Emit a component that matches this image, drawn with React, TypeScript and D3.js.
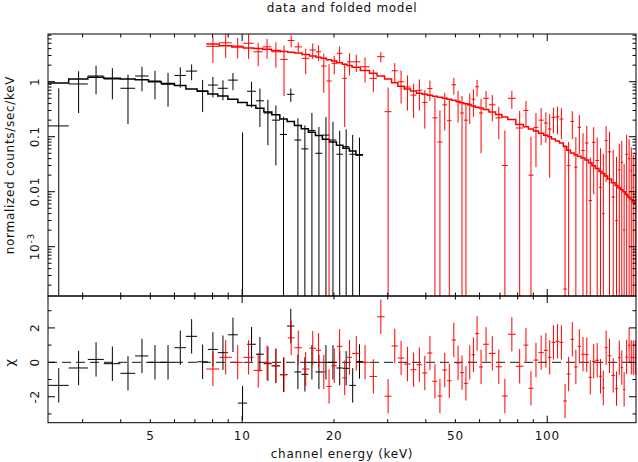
import React from 'react';
import * as d3 from 'd3';

// values

// set 1 (black): bin edges in keV, folded data, 1-sigma errors, model, chi residuals
const blackEdges = [2.31, 2.70, 3.12, 3.52, 3.99, 4.46, 4.93, 5.43, 6.00, 6.54, 7.12, 7.72, 8.32, 8.98, 9.68, 10.38,
  11.09, 11.78, 12.51, 13.29, 14.04, 14.83, 15.63, 16.48, 17.38, 18.32, 19.32, 20.37, 21.39, 22.46, 23.6, 24.88];
const blackData = [0.157, 0.91, 1.27, 1.12, 0.76, 1.27, 1.03, 0.9, 1.3, 1.56, 0.68, 0.87, 0.76, 1.07, 0, 0.67,
  0.45, 0.27, 0.2, 0.11, 0.59, 0.087, 0.06, 0.13, 0.05, 0.107, 0.087, 0.048, 0.066, 0.048, 0.046];
const blackErr = [0.6, 0.64, 0.68, 0.64, 0.59, 0.6, 0.55, 0.55, 0.52, 0.5, 0.4, 0.35, 0.3, 0.37, 0.12, 0.33,
  0.3, 0.2, 0.17, 0.12, 0.16, 0.13, 0.1, 0.14, 0.1, 0.12, 0.1, 0.08, 0.07, 0.06, 0.05];
const blackModel = [0.95, 1.12, 1.2, 1.15, 1.12, 1.08, 1.0, 0.93, 0.85, 0.74, 0.67, 0.6, 0.55, 0.48, 0.42, 0.37,
  0.33, 0.28, 0.25, 0.21, 0.19, 0.16, 0.14, 0.12, 0.105, 0.09, 0.08, 0.07, 0.062, 0.055, 0.047];
const blackResid = [-1.34, -0.33, 0.17, -0.08, -0.64, 0.37, 0, 0, 0.85, 1.51, 0.03, 0.75, 0.56, 1.6, -2.37, 1.05,
  0.47, -0.08, -0.2, -0.72, 2.11, -0.56, -0.7, 0, -0.56, 0, 0, -0.33, -0.35, -1.34, 0.05];

// set 2 (red): bin centres in keV
const redCentres = [8.01, 8.84, 9.68, 10.52, 11.30, 12.05, 12.90, 13.78, 14.44, 15.26,
  16.15, 17.09, 17.84, 18.46, 19.32, 19.98, 20.90, 21.71, 22.43, 23.42,
  25.44, 26.89, 28.50, 30.11, 31.67, 33.13, 34.85, 36.48, 38.11, 39.72,
  41.25, 42.84, 44.48, 46.19, 47.71, 49.44, 51.07, 52.52, 54.13, 55.80,
  57.20, 58.95, 60.48, 62.81, 66.03, 69.45, 72.67, 75.86, 82.0, 85.16,
  88.43, 91.83, 95.35, 99.55, 101.5, 104.96, 107.8, 111.5, 114.3, 117.5,
  120.8, 124.2, 127.3, 130.9, 134.9, 138.4, 141.9, 145.8, 149.7, 152.6,
  155.8, 159.7, 164.8, 168.9, 172.2, 175.8, 178.4, 182.1, 185.7, 188.6,
  191.4, 194.3];
const redData = [4.4, 5.1, 4.45, 5.0, 3.5, 4.3, 3.5, 2.55, 5.6, 4.3,
  2.66, 3.77, 3.5, 1.93, 1.03, 2.16, 3.28, 1.15, 2.3, 2.3,
  1.87, 1.15, 2.85, 0.285, 1.58, 1.0, 0.8, 0.57, 0.7, 0.42,
  0.75, 0.22, 0.08, 0.38, 0.195, 0.88, 0.43, 0.27, 0.2, 0.39,
  0.48, 0.81, 0.27, 0.5, 0.38, 0.22, 0.03, 0.5, 0.144, 0.3,
  0.02, 0.148, 0.2, 0.177, 0.138, 0.225, 0.23, 0.21, 0.00017, 0.03,
  0.19, 0.028, 0.148, 0.056, 0.077, 0.0069, 0.079, 0.037, 0.012, 0.004,
  0.085, 0.053, 0.008, 0.003, 0.025, 0.034, 0.002, 0.048, 0.04, 0.024,
  0.012, 0.02];
const redErr = [2.2, 2.4, 1.8, 2.4, 1.6, 1.7, 1.7, 2.0, 1.4, 0.85,
  1.3, 1.2, 1.1, 1.3, 1.05, 0.8, 1.1, 1.0, 1.0, 0.8,
  0.9, 0.5, 0.6, 0.5, 0.6, 0.6, 0.5, 0.35, 0.4, 0.28,
  0.3, 0.3, 0.22, 0.25, 0.27, 0.3, 0.25, 0.28, 0.2, 0.22,
  0.25, 0.27, 0.22, 0.18, 0.19, 0.13, 0.1, 0.18, 0.15, 0.15,
  0.08, 0.12, 0.13, 0.1, 0.12, 0.11, 0.12, 0.12, 0.07, 0.05,
  0.1, 0.07, 0.1, 0.06, 0.08, 0.035, 0.07, 0.06, 0.05, 0.045,
  0.07, 0.07, 0.05, 0.04, 0.05, 0.05, 0.03, 0.06, 0.05, 0.04,
  0.035, 0.03];
const redModel = [4.83, 4.49, 4.26, 4.12, 4.0, 3.88, 3.71, 3.54, 3.44, 3.31,
  3.12, 2.93, 2.79, 2.66, 2.50, 2.39, 2.22, 2.08, 1.97, 1.83,
  1.60, 1.43, 1.27, 1.12, 0.955, 0.825, 0.74, 0.68, 0.62, 0.59,
  0.566, 0.543, 0.52, 0.499, 0.48, 0.459, 0.435, 0.415, 0.396, 0.377,
  0.361, 0.345, 0.331, 0.311, 0.282, 0.254, 0.228, 0.205, 0.167, 0.152,
  0.138, 0.127, 0.116, 0.106, 0.1, 0.091, 0.0835, 0.0768, 0.0666, 0.0566,
  0.0505, 0.0471, 0.044, 0.0408, 0.0376, 0.0337, 0.0298, 0.0264, 0.0234, 0.0214,
  0.0193, 0.017, 0.0146, 0.013, 0.0118, 0.0108, 0.00996, 0.00886, 0.0079, 0.00724,
  0.00653, 0.0061];
const redResid = [-0.39, 0.29, 0, 0.29, -0.47, -0.03, -0.21, -0.72, 1.42, 0.85,
  -0.39, 0.82, 0.7, -0.56, -1.4, -0.2, 0.93, -0.9, 0.29, 0.52,
  0, -0.82, 2.65, -1.97, 0.95, 0.25, -0.1, -0.43, -0.14, -0.62,
  0.54, -1.1, -1.96, -0.45, -1.07, 1.3, -0.04, -0.6, -1.22, 0,
  0.44, 1.68, -0.27, 1.05, 0.52, -0.26, -1.96, 1.63, -0.23, 1.0,
  -1.51, 0.13, 0.56, 0.7, 0.29, 1.16, 1.22, 1.16, -2.25, -0.68,
  1.34, -0.27, 0.93, 0.47, 0.44, -0.87, 0.06, 0.12, -0.81, -1.49,
  0.85, 0.38, -0.76, -1.53, 0.27, -0.31, -1.57, 0.31, 0.99, 0.29,
  0.27, 0.29];

const xTickLabels = [5, 10, 20, 50, 100];
const yTickLabels = [1, 0.1, 0.01, 0.001];
const chiTickLabels = [-2, 0, 2];

const W = 638, H = 462;
const L = 48, R = 636, T = 34, M = 296, B = 422.7;
const FONT = '"DejaVu Sans", sans-serif';
const MAJ = 7, MIN = 3.5;

// geometric midpoints between neighbouring bin centres
function edgesFrom(c: number[]) {
  const e = [c[0] * c[0] / Math.sqrt(c[0] * c[1])];
  for (let i = 1; i < c.length; i++) e.push(Math.sqrt(c[i - 1] * c[i]));
  const n = c.length;
  e.push(c[n - 1] * c[n - 1] / Math.sqrt(c[n - 2] * c[n - 1]));
  return e;
}

const isPow10 = (v: number) => Math.abs(Math.log10(v) - Math.round(Math.log10(v))) < 1e-6;

export default function App() {
  const x = d3.scaleLog().domain([2.31, 195.4]).range([L, R]);
  const yU = d3.scaleLog().domain([1.27e-4, 7.37]).range([M, T]);
  const yL = d3.scaleLinear().domain([-3.51, 3.855]).range([B, M]);
  const yv = (v: number) => (v > 0 ? yU(v) : M + 2000);

  const redEdges = edgesFrom(redCentres);

  const sets = [
    { edges: blackEdges, data: blackData, err: blackErr, model: blackModel, resid: blackResid, color: '#000' },
    { edges: redEdges, data: redData, err: redErr, model: redModel, resid: redResid, color: '#ff0000' },
  ];

  const stepPath = (edges: number[], vals: number[]) => {
    let p = '';
    vals.forEach((v, i) => {
      const yy = yv(v);
      p += (i === 0 ? `M${x(edges[0])},${yy}` : `V${yy}`) + `H${x(edges[i + 1])}`;
    });
    return p;
  };

  const xt = x.ticks();
  const yt = yU.ticks();
  const ct = d3.range(-3, 4);

  const tickLines: JSX.Element[] = [];
  xt.forEach((t, i) => {
    const len = isPow10(t) ? MAJ : MIN;
    const xx = x(t);
    tickLines.push(<line key={'xt' + i} x1={xx} x2={xx} y1={T} y2={T + len} />);
    tickLines.push(<line key={'xm' + i} x1={xx} x2={xx} y1={M} y2={M - len} />);
    tickLines.push(<line key={'xn' + i} x1={xx} x2={xx} y1={M} y2={M + len} />);
    tickLines.push(<line key={'xb' + i} x1={xx} x2={xx} y1={B} y2={B - len} />);
  });
  yt.forEach((t, i) => {
    const len = isPow10(t) ? MAJ : MIN;
    const yy = yU(t);
    tickLines.push(<line key={'yl' + i} x1={L} x2={L + len} y1={yy} y2={yy} />);
    tickLines.push(<line key={'yr' + i} x1={R} x2={R - len} y1={yy} y2={yy} />);
  });
  ct.forEach((t, i) => {
    const len = t % 2 === 0 ? MAJ : MIN;
    const yy = yL(t);
    tickLines.push(<line key={'cl' + i} x1={L} x2={L + len} y1={yy} y2={yy} />);
    tickLines.push(<line key={'cr' + i} x1={R} x2={R - len} y1={yy} y2={yy} />);
  });

  return (
    <svg width={W} height={H} style={{ position: 'absolute', left: 0, top: 0, background: '#fff' }}
      fontFamily={FONT} fontSize={12} letterSpacing={0.7}>
      <defs>
        <clipPath id="clipU"><rect x={L} y={T} width={R - L} height={M - T} /></clipPath>
        <clipPath id="clipL"><rect x={L} y={M} width={R - L} height={B - M} /></clipPath>
      </defs>
      <rect x={0} y={0} width={W} height={H} fill="#fff" />

      <text x={(L + R) / 2} y={12} textAnchor="middle" fill="#111">data and folded model</text>

      {/* upper panel: folded data and model */}
      <g clipPath="url(#clipU)">
        {sets.map((s, si) => (
          <g key={'u' + si} stroke={s.color} strokeWidth={1} fill="none">
            {s.data.map((d, i) => {
              const lo = s.edges[i], hi = s.edges[i + 1];
              const xc = x((lo + hi) / 2);
              return (
                <g key={i}>
                  <line x1={x(lo)} x2={x(hi)} y1={yv(d)} y2={yv(d)} />
                  <line x1={xc} x2={xc} y1={yv(d + s.err[i])} y2={yv(d - s.err[i])} />
                </g>
              );
            })}
            <path d={stepPath(s.edges, s.model)} strokeWidth={1.5} />
          </g>
        ))}
      </g>

      {/* lower panel: residuals in units of sigma */}
      <g clipPath="url(#clipL)">
        <line x1={L} x2={R} y1={yL(0)} y2={yL(0)} stroke="#444" strokeWidth={1.2} strokeDasharray="9 5" />
        {sets.map((s, si) => (
          <g key={'l' + si} stroke={s.color} strokeWidth={1} fill="none">
            {s.resid.map((r, i) => {
              const lo = s.edges[i], hi = s.edges[i + 1];
              const xc = x((lo + hi) / 2);
              return (
                <g key={i}>
                  <line x1={x(lo)} x2={x(hi)} y1={yL(r)} y2={yL(r)} />
                  <line x1={xc} x2={xc} y1={yL(r + 1)} y2={yL(r - 1)} />
                </g>
              );
            })}
          </g>
        ))}
      </g>

      {/* frames and ticks */}
      <g stroke="#000" strokeWidth={1} fill="none">
        <rect x={L} y={T} width={R - L} height={M - T} />
        <rect x={L} y={M} width={R - L} height={B - M} />
        {tickLines}
      </g>

      {/* tick labels */}
      <g fill="#111">
        {xTickLabels.map(t => (
          <text key={t} x={x(t)} y={440} textAnchor="middle">{t}</text>
        ))}
        {yTickLabels.map(t => (
          <text key={t} transform={`translate(39,${yU(t)}) rotate(-90)`} textAnchor="middle">
            {t >= 0.01 ? String(t) : (
              <>
                <tspan>10</tspan>
                <tspan dy={-5} fontSize={9}>-3</tspan>
              </>
            )}
          </text>
        ))}
        {chiTickLabels.map(t => (
          <text key={t} transform={`translate(39,${yL(t)}) rotate(-90)`} textAnchor="middle">{String(t)}</text>
        ))}
        <text transform={`translate(13.5,${(T + M) / 2}) rotate(-90)`} textAnchor="middle">normalized counts/sec/keV</text>
        <text transform={`translate(14,${yL(0)}) rotate(-90)`} textAnchor="middle" fontSize={13}>χ</text>
        <text x={(L + R) / 2} y={458} textAnchor="middle">channel energy (keV)</text>
      </g>
    </svg>
  );
}
